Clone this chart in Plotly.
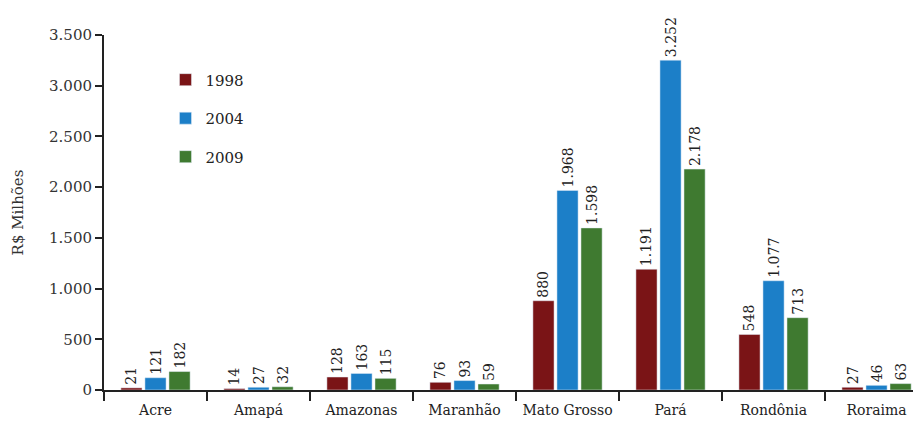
import plotly.graph_objects as go

categories = ["Acre", "Amapá", "Amazonas", "Maranhão", "Mato Grosso", "Pará", "Rondônia", "Roraima"]
v1998 = [21, 14, 128, 76, 880, 1191, 548, 27]
v2004 = [121, 27, 163, 93, 1968, 3252, 1077, 46]
v2009 = [182, 32, 115, 59, 1598, 2178, 713, 63]
series = [("1998", v1998, "#7a1416"), ("2004", v2004, "#1c7fc8"), ("2009", v2009, "#3f7a30")]
y_ticks = [0, 500, 1000, 1500, 2000, 2500, 3000, 3500]

def fmt(v):
    return f"{v:,}".replace(",", ".")

FONT = "DejaVu Serif"
fig = go.Figure()
for i, (name, vals, color) in enumerate(series):
    fig.add_trace(go.Bar(
        x=categories, y=vals, name=name, marker_color=color,
        text=[fmt(v) for v in vals], textposition="outside", textangle=-90,
        textfont=dict(family=FONT, size=14, color="#222"),
        constraintext="none",
        cliponaxis=False, legendgroup=f"g{i}",
    ))

fig.update_layout(
    width=913, height=427,
    margin=dict(l=104, r=0, t=35, b=37, autoexpand=False),
    paper_bgcolor="white", plot_bgcolor="white",
    font=dict(family=FONT, size=15, color="#222"),
    barmode="group", bargap=0.3, bargroupgap=0.12,
    uniformtext=dict(minsize=14, mode="show"),
    showlegend=True,
    legend=dict(x=0.076, y=0.92, xanchor="left", yanchor="top",
                bgcolor="rgba(0,0,0,0)", tracegroupgap=16,
                font=dict(family=FONT, size=15, color="#222"),
                itemwidth=30),
    xaxis=dict(
        type="category", range=[-0.5, 7.354], automargin=False, tickangle=0,
        showline=True, linecolor="#222", linewidth=2,
        ticks="outside", tickson="boundaries", ticklen=9, tickwidth=2, tickcolor="#222",
        ticklabelstandoff=6,
        showgrid=False, tickfont=dict(family=FONT, size=14, color="#222"),
    ),
    yaxis=dict(
        range=[0, 3500], tickvals=y_ticks, ticktext=[fmt(v) for v in y_ticks],
        automargin=False,
        showline=True, linecolor="#222", linewidth=2,
        ticks="outside", ticklen=7, tickwidth=2, tickcolor="#222",
        showgrid=False, zeroline=False,
        tickfont=dict(family=FONT, size=15, color="#333"),
        title=dict(text="R$ Milhões", font=dict(family=FONT, size=15, color="#333"), standoff=22),
    ),
)
fig.write_html("out.html")
